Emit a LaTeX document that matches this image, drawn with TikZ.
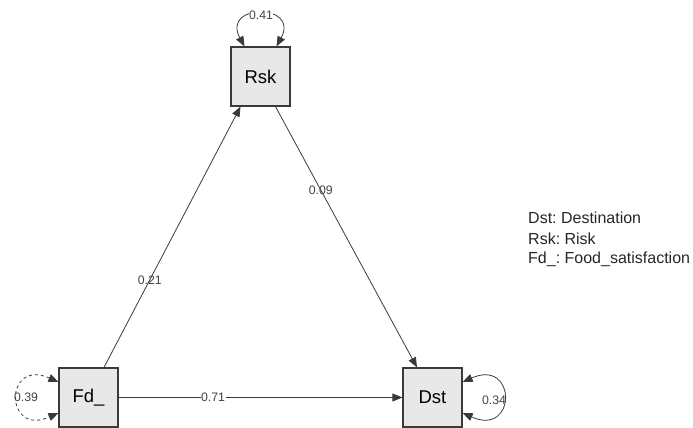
\documentclass[tikz,border=0pt]{standalone}
\usepackage{fontspec}
\setmainfont{Liberation Sans}
\usetikzlibrary{arrows.meta}
\definecolor{boxfill}{HTML}{E8E8E8}
\definecolor{boxline}{HTML}{3A3A3A}
\definecolor{edgecol}{HTML}{3A3A3A}
\definecolor{labcol}{HTML}{444444}
\frenchspacing
\begin{document}
\begin{tikzpicture}[x=1pt,y=-1pt,
  var/.style={draw=boxline,fill=boxfill,line width=1.2pt,minimum width=59pt,minimum height=59pt,inner sep=0pt,font=\fontsize{18.5}{20}\selectfont},
  path/.style={draw=edgecol,line width=0.8pt,-{Triangle[length=10pt,width=8pt]}},
  bipath/.style={draw=edgecol,line width=0.8pt,{Triangle[length=10pt,width=8pt]}-{Triangle[length=10pt,width=8pt]}},
  elab/.style={inner sep=0.5pt,text=labcol,font=\fontsize{12.3}{14}\selectfont},
  welab/.style={elab,fill=white},
  legend/.style={anchor=west,inner sep=0pt,text=black!85,font=\fontsize{16}{18}\selectfont}]
\useasboundingbox (0,0) rectangle (693,428);
\node[var] (Rsk) at (260.5,76.5) {Rsk};
\node[var] (Fd) at (88.5,397.5) {Fd\_};
\node[var] (Dst) at (432.5,397.5) {Dst};
% paths
\draw[path] ([xshift=15.5pt]Fd.north) -- node[elab,pos=0.336] {0.21} ([xshift=-20pt]Rsk.south);
\draw[path] ([xshift=15pt]Rsk.south) -- node[elab,pos=0.32] {0.09} ([xshift=-15.5pt]Dst.north);
\draw[path] (Fd.east) -- node[welab,pos=0.333] {0.71} (Dst.west);
% variances
\draw[bipath] ([xshift=-16pt]Rsk.north) .. controls (221,3) and (300,3) .. ([xshift=16pt]Rsk.north);
\node[welab] (vR) at (261,15) {0.41};
\draw[bipath,dashed] ([yshift=15.5pt]Fd.west) .. controls (4,358) and (4,437) .. ([yshift=-15.5pt]Fd.west);
\node[elab] (vF) at (26,397) {0.39};
\draw[bipath] ([yshift=15.5pt]Dst.east) .. controls (517,358) and (517,437) .. ([yshift=-15.5pt]Dst.east);
\node[elab] (vD) at (494,400) {0.34};
% legend
\node[legend] (l1) at (528,218) {Dst: Destination};
\node[legend] (l2) at (528,238.5) {Rsk: Risk};
\node[legend] (l3) at (528,259) {Fd\_: Food\_satisfaction};
\end{tikzpicture}
\end{document}
